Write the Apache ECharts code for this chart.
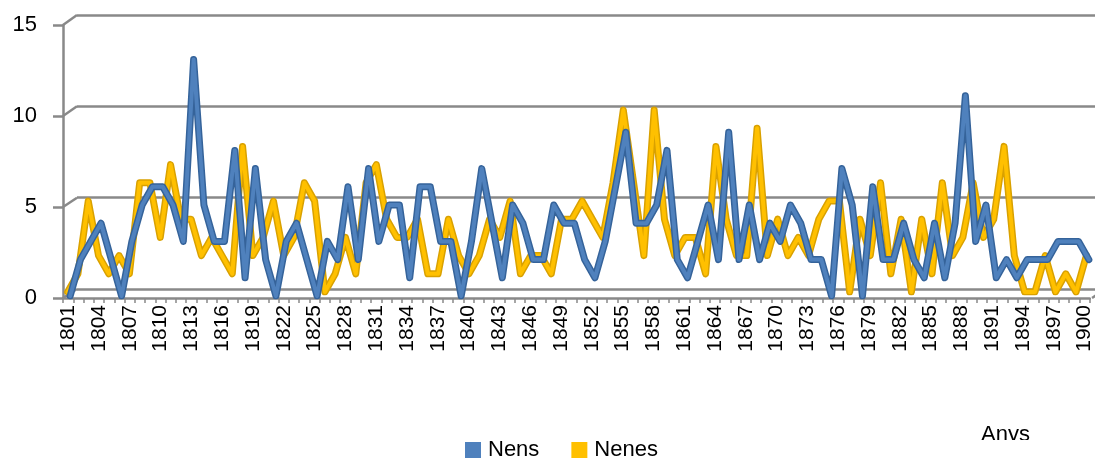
<!DOCTYPE html>
<html>
<head>
<meta charset="utf-8">
<script src="https://cdn.jsdelivr.net/npm/echarts@6/dist/echarts.min.js"></script>
<style>
  html, body { margin: 0; padding: 0; background: #ffffff; }
  #chart { width: 1095px; height: 461px; }
</style>
</head>
<body>
<div id="chart"></div>
<script>
// Anys (category axis)
const years = [
  '1801','1802','1803','1804','1805','1806','1807','1808','1809','1810',
  '1811','1812','1813','1814','1815','1816','1817','1818','1819','1820',
  '1821','1822','1823','1824','1825','1826','1827','1828','1829','1830',
  '1831','1832','1833','1834','1835','1836','1837','1838','1839','1840',
  '1841','1842','1843','1844','1845','1846','1847','1848','1849','1850',
  '1851','1852','1853','1854','1855','1856','1857','1858','1859','1860',
  '1861','1862','1863','1864','1865','1866','1867','1868','1869','1870',
  '1871','1872','1873','1874','1875','1876','1877','1878','1879','1880',
  '1881','1882','1883','1884','1885','1886','1887','1888','1889','1890',
  '1891','1892','1893','1894','1895','1896','1897','1898','1899','1900'
];

// Nens per any
const nens = [
  0, 2, 3, 4, 2, 0, 3, 5, 6, 6,
  5, 3, 13, 5, 3, 3, 8, 1, 7, 2,
  0, 3, 4, 2, 0, 3, 2, 6, 2, 7,
  3, 5, 5, 1, 6, 6, 3, 3, 0, 3,
  7, 4, 1, 5, 4, 2, 2, 5, 4, 4,
  2, 1, 3, 6, 9, 4, 4, 5, 8, 2,
  1, 3, 5, 2, 9, 2, 5, 2, 4, 3,
  5, 4, 2, 2, 0, 7, 5, 0, 6, 2,
  2, 4, 2, 1, 4, 1, 4, 11, 3, 5,
  1, 2, 1, 2, 2, 2, 3, 3, 3, 2
];

// Nenes per any
const nenes = [
  0, 1, 5, 2, 1, 2, 1, 6, 6, 3,
  7, 4, 4, 2, 3, 2, 1, 8, 2, 3,
  5, 2, 3, 6, 5, 0, 1, 3, 1, 6,
  7, 4, 3, 3, 4, 1, 1, 4, 2, 1,
  2, 4, 3, 5, 1, 2, 2, 1, 4, 4,
  5, 4, 3, 6, 10, 6, 2, 10, 4, 2,
  3, 3, 1, 8, 4, 2, 2, 9, 2, 4,
  2, 3, 2, 4, 5, 5, 0, 4, 2, 6,
  1, 4, 0, 4, 1, 6, 2, 3, 6, 3,
  4, 8, 2, 0, 0, 2, 0, 1, 0, 2
];

const yTicks = [0, 5, 10, 15];

// Plot geometry: the front plane, the back wall (depth offset) and the two series ribbons
const PLOT = { left: 63, top: 25, width: 1029, height: 273 };
const DEPTH = { dx: 14, dy: -10 };
const GRID_COLOR = '#898989';
const FONT = 'Liberation Sans, Arial, sans-serif';

const chart = echarts.init(document.getElementById('chart'), null, { renderer: 'canvas' });

function gridAt(dx, dy, dh) {
  return {
    left: PLOT.left + dx, top: PLOT.top + dy,
    width: PLOT.width, height: PLOT.height + (dh || 0),
    containLabel: false
  };
}

function hiddenX(gridIndex) {
  return { type: 'category', gridIndex, data: years, boundaryGap: true, show: false };
}
function hiddenY(gridIndex) {
  return { type: 'value', gridIndex, min: 0, max: 15, interval: 5, show: false };
}

function lineSeries(name, data, idx, color, width, z) {
  return {
    type: 'line', name, data,
    xAxisIndex: idx, yAxisIndex: idx,
    symbol: 'none', silent: true, z,
    lineStyle: { color, width, join: 'round', cap: 'round' },
    emphasis: { disabled: true }
  };
}

const option = {
  backgroundColor: '#ffffff',
  animation: false,
  grid: [
    gridAt(0, 0),                       // front axes
    gridAt(DEPTH.dx, DEPTH.dy, 1),      // back wall
    gridAt(-0.5, -6),                   // Nenes ribbon
    gridAt(2, -2)                       // Nens ribbon
  ],
  xAxis: [
    {
      type: 'category', gridIndex: 0, data: years, boundaryGap: true,
      axisLine: { show: true, lineStyle: { color: GRID_COLOR, width: 2.5 } },
      axisTick: { show: true, interval: 0, length: 5, lineStyle: { color: GRID_COLOR, width: 1.5 } },
      axisLabel: {
        interval: 2, rotate: 90, margin: 7,
        color: '#000', fontFamily: FONT, fontSize: 21
      },
      splitLine: { show: false }
    },
    hiddenX(1), hiddenX(2), hiddenX(3)
  ],
  yAxis: [
    {
      type: 'value', gridIndex: 0, min: 0, max: 15, interval: 5,
      axisLine: { show: true, lineStyle: { color: GRID_COLOR, width: 2.5 } },
      axisTick: { show: true, length: 10, lineStyle: { color: GRID_COLOR, width: 2.5 } },
      axisLabel: { margin: 26, color: '#000', fontFamily: FONT, fontSize: 22 },
      splitLine: { show: false }
    },
    {
      type: 'value', gridIndex: 1, min: 0, max: 15, interval: 5,
      axisLine: { show: false }, axisTick: { show: false }, axisLabel: { show: false },
      splitLine: { show: true, lineStyle: { color: GRID_COLOR, width: 2.5 } }
    },
    hiddenY(2), hiddenY(3)
  ],
  legend: {
    left: 465, top: 439,
    padding: 0,
    itemWidth: 16, itemHeight: 16, itemGap: 32,
    icon: 'rect',
    selectedMode: false,
    textStyle: { color: '#000', fontFamily: FONT, fontSize: 22, padding: [0, 0, 0, 2] },
    data: [
      { name: 'Nens', itemStyle: { color: '#4f81bd' } },
      { name: 'Nenes', itemStyle: { color: '#ffc000' } }
    ]
  },
  series: [
    lineSeries('nenesEdge', nenes, 2, '#d9a100', 7, 2),
    lineSeries('Nenes', nenes, 2, '#ffc000', 4, 3),
    lineSeries('nensEdge', nens, 3, '#35639a', 7, 4),
    lineSeries('Nens', nens, 3, '#4f81bd', 4, 5)
  ]
};

chart.setOption(option);

// Depth connectors from the front value axis to the back wall, the floor edge, and the axis title
const graphics = [];
yTicks.forEach(function (v) {
  const yFront = chart.convertToPixel({ yAxisIndex: 0 }, v);
  const yBack = chart.convertToPixel({ yAxisIndex: 1 }, v);
  graphics.push({
    type: 'line', silent: true, z: 1,
    shape: { x1: PLOT.left, y1: yFront, x2: PLOT.left + DEPTH.dx, y2: yBack },
    style: { stroke: GRID_COLOR, lineWidth: 2.5 }
  });
});
const yFloorFront = chart.convertToPixel({ yAxisIndex: 0 }, 0);
const yFloorBack = chart.convertToPixel({ yAxisIndex: 1 }, 0);
graphics.push({
  type: 'line', silent: true, z: 1,
  shape: {
    x1: PLOT.left + PLOT.width, y1: yFloorFront,
    x2: PLOT.left + PLOT.width + DEPTH.dx, y2: yFloorBack
  },
  style: { stroke: GRID_COLOR, lineWidth: 2.5 }
});
graphics.push({
  type: 'text', silent: true, z: 10,
  left: 981, top: 424,
  style: { text: 'Anys', fill: '#000', font: '22px ' + FONT }
});
graphics.push({
  type: 'rect', silent: true, z: 11,
  shape: { x: 970, y: 440, width: 80, height: 21 },
  style: { fill: '#ffffff' }
});
chart.setOption({ graphic: graphics });
</script>
</body>
</html>
